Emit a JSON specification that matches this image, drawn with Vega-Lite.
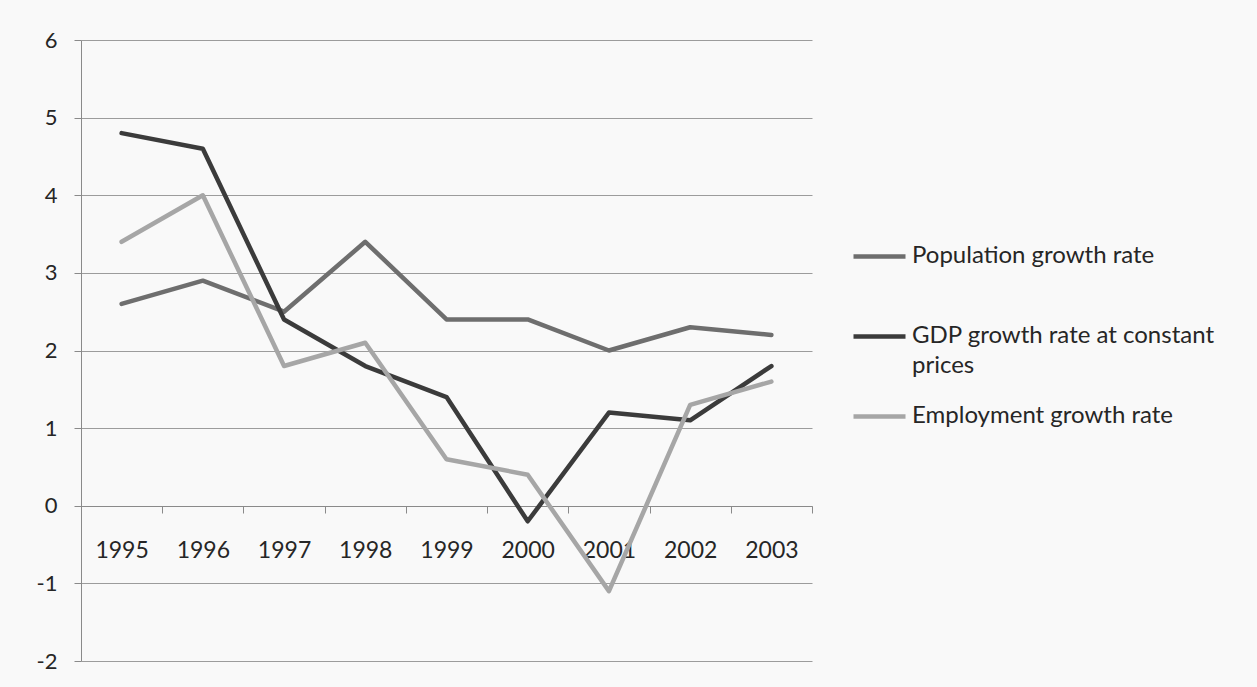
{
  "$schema": "https://vega.github.io/schema/vega-lite/v6.json",
  "width": 731,
  "height": 621,
  "autosize": "none",
  "padding": {"left": 81, "top": 40, "right": 445, "bottom": 26},
  "background": "#f9f9f9",
  "config": {
    "font": "Lato",
    "view": {"stroke": null},
    "axis": {"labelColor": "#262626", "labelFont": "Lato"},
    "legend": {"labelColor": "#262626", "labelFont": "Lato"}
  },
  "data": {
    "values": [
      {"year": "1995", "series": "Population growth rate", "rate": 2.6},
      {"year": "1996", "series": "Population growth rate", "rate": 2.9},
      {"year": "1997", "series": "Population growth rate", "rate": 2.5},
      {"year": "1998", "series": "Population growth rate", "rate": 3.4},
      {"year": "1999", "series": "Population growth rate", "rate": 2.4},
      {"year": "2000", "series": "Population growth rate", "rate": 2.4},
      {"year": "2001", "series": "Population growth rate", "rate": 2.0},
      {"year": "2002", "series": "Population growth rate", "rate": 2.3},
      {"year": "2003", "series": "Population growth rate", "rate": 2.2},
      {"year": "1995", "series": "GDP growth rate at constant prices", "rate": 4.8},
      {"year": "1996", "series": "GDP growth rate at constant prices", "rate": 4.6},
      {"year": "1997", "series": "GDP growth rate at constant prices", "rate": 2.4},
      {"year": "1998", "series": "GDP growth rate at constant prices", "rate": 1.8},
      {"year": "1999", "series": "GDP growth rate at constant prices", "rate": 1.4},
      {"year": "2000", "series": "GDP growth rate at constant prices", "rate": -0.2},
      {"year": "2001", "series": "GDP growth rate at constant prices", "rate": 1.2},
      {"year": "2002", "series": "GDP growth rate at constant prices", "rate": 1.1},
      {"year": "2003", "series": "GDP growth rate at constant prices", "rate": 1.8},
      {"year": "1995", "series": "Employment growth rate", "rate": 3.4},
      {"year": "1996", "series": "Employment growth rate", "rate": 4.0},
      {"year": "1997", "series": "Employment growth rate", "rate": 1.8},
      {"year": "1998", "series": "Employment growth rate", "rate": 2.1},
      {"year": "1999", "series": "Employment growth rate", "rate": 0.6},
      {"year": "2000", "series": "Employment growth rate", "rate": 0.4},
      {"year": "2001", "series": "Employment growth rate", "rate": -1.1},
      {"year": "2002", "series": "Employment growth rate", "rate": 1.3},
      {"year": "2003", "series": "Employment growth rate", "rate": 1.6}
    ]
  },
  "mark": {"type": "line", "strokeWidth": 4.5, "strokeCap": "round", "strokeJoin": "round"},
  "encoding": {
    "x": {
      "field": "year",
      "type": "ordinal",
      "scale": {"type": "band", "paddingInner": 0, "paddingOuter": 0},
      "axis": {
        "title": null,
        "orient": "bottom",
        "offset": -155,
        "tickBand": "extent",
        "tickSize": 7,
        "labelAngle": 0,
        "labelFontSize": 23,
        "labelPadding": 26,
        "grid": false,
        "domainColor": "#8a8a8a",
        "tickColor": "#8a8a8a"
      }
    },
    "y": {
      "field": "rate",
      "type": "quantitative",
      "scale": {"domain": [-2, 6], "nice": false, "zero": false},
      "axis": {
        "title": null,
        "values": [-2, -1, 0, 1, 2, 3, 4, 5, 6],
        "labelExpr": "datum.value + ''",
        "tickSize": 7,
        "labelPadding": 17,
        "labelFontSize": 22,
        "grid": true,
        "gridColor": "#9c9c9c",
        "gridWidth": 1,
        "domainColor": "#8a8a8a",
        "tickColor": "#8a8a8a"
      }
    },
    "color": {
      "field": "series",
      "type": "nominal",
      "scale": {
        "domain": ["Population growth rate", "GDP growth rate at constant prices", "Employment growth rate"],
        "range": ["#6e6e6e", "#3b3b3b", "#a6a6a6"]
      },
      "legend": {
        "orient": "none",
        "legendX": 770,
        "legendY": 188,
        "title": null,
        "padding": 0,
        "symbolType": "stroke",
        "symbolSize": 2704,
        "symbolStrokeWidth": 4.5,
        "labelFontSize": 24,
        "labelOffset": 4,
        "labelLimit": 400,
        "labelBaseline": "top",
        "rowPadding": 10,
        "labelExpr": "datum.value == 'GDP growth rate at constant prices' ? ['GDP growth rate at constant', 'prices'] : [datum.label, '']",
        "encode": {
          "labels": {"update": {"dy": {"value": -13}, "lineHeight": {"value": 30}}}
        }
      }
    }
  }
}
